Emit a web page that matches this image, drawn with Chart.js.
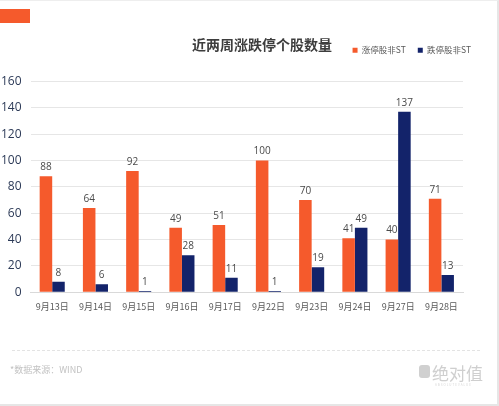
<!DOCTYPE html>
<html>
<head>
<meta charset="utf-8">
<script src="https://cdn.jsdelivr.net/npm/chart.js@4.4.1/dist/chart.umd.min.js"></script>
<style>
  html, body { margin: 0; padding: 0; background: #fff; }
  #wrap {
    position: relative; width: 499px; height: 406px; box-sizing: border-box;
    border-right: 2px solid #e6e6e6; border-bottom: 2px solid #e6e6e6; border-top: 1px solid #eeeeee;
    font-family: "Noto Sans CJK SC", "Open Sans", sans-serif; overflow: hidden;
  }
  #tag { position: absolute; left: 0; top: 8px; width: 30px; height: 14px; background: #f55a2c; }
  #title {
    position: absolute; left: 192px; top: 33px; font-size: 14px; font-weight: bold; color: #3d3d3d;
    white-space: nowrap;
  }
  #chart { position: absolute; left: 0; top: 0; }
  #rule { position: absolute; left: 12px; top: 349px; width: 468px; border-top: 1px dashed #e3e3e3; }
  #source { position: absolute; left: 10px; top: 362px; font-size: 9px; color: #c2c2c2; }
  #logo { position: absolute; left: 419px; top: 359px; color: #cfcfcf; white-space: nowrap; }
  #logo .mark { display: inline-block; width: 11px; height: 13px; background: #d0d0d0; border-radius: 3px; vertical-align: 2px; margin-right: 2px; }
  #logo .name { font-size: 17px; }
  #logo .en { position: absolute; left: 16px; top: 23px; font-size: 3px; letter-spacing: 1px; color: #d6d6d6; }
</style>
</head>
<body>
<div id="wrap">
  <div id="tag"></div>
  <canvas id="chart" width="499" height="406"></canvas>
  <div id="title">近两周涨跌停个股数量</div>
  <div id="rule"></div>
  <div id="source">*数据来源：WIND</div>
  <div id="logo"><span class="mark"></span><span class="name">绝对值</span><span class="en">ABSOLUTEVALUE</span></div>
</div>
<script>
// categories and series
const dates = ['9月13日', '9月14日', '9月15日', '9月16日', '9月17日', '9月22日', '9月23日', '9月24日', '9月27日', '9月28日']
const limitUp = [88, 64, 92, 49, 51, 100, 70, 41, 40, 71]
const limitDown = [8, 6, 1, 28, 11, 1, 19, 49, 137, 13]
const yTicks = [0, 20, 40, 60, 80, 100, 120, 140, 160]

const orange = '#f55a2c'
const navy = '#13236a'

// value labels above every bar
const barValues = {
	id: 'barValues',
	afterDatasetsDraw(chart) {
		const ctx = chart.ctx
		ctx.save()
		ctx.font = '10px "Open Sans", "Noto Sans CJK SC", sans-serif'
		ctx.fillStyle = '#4a4a4a'
		ctx.textAlign = 'center'
		ctx.textBaseline = 'bottom'
		chart.data.datasets.forEach((ds, i) => {
			chart.getDatasetMeta(i).data.forEach((bar, j) => {
				ctx.fillText(ds.data[j], bar.x, bar.y - 4)
			})
		})
		ctx.restore()
	}
}

// more room under the legend, and push it a bit to the right
const legendSpace = {
	id: 'legendSpace',
	beforeInit(chart) {
		const fit = chart.legend.fit
		chart.legend.fit = function () {
			fit.bind(chart.legend)()
			this.height += 17
		}
	},
	afterLayout(chart) {
		chart.legend.left += 20
		chart.legend.right += 20
	}
}

new Chart(document.getElementById('chart'), {
	type: 'bar',
	data: {
		labels: dates,
		datasets: [
			{ label: '涨停股非ST', data: limitUp, backgroundColor: orange },
			{ label: '跌停股非ST', data: limitDown, backgroundColor: navy }
		]
	},
	options: {
		responsive: false,
		animation: false,
		devicePixelRatio: 1,
		layout: { padding: { left: 0, right: 36, top: 33, bottom: 94 } },
		datasets: { bar: { barPercentage: 1, categoryPercentage: 0.58 } },
		plugins: {
			legend: {
				position: 'top',
				align: 'end',
				labels: {
					boxWidth: 5, boxHeight: 5, padding: 12,
					color: '#5a5a5a',
					font: { size: 8.5, family: '"Noto Sans CJK SC", sans-serif' }
				}
			},
			tooltip: { enabled: false }
		},
		scales: {
			x: {
				grid: { display: false },
				border: { color: '#d9d9d9' },
				ticks: { color: '#5a5a5a', font: { size: 9, family: '"Noto Sans CJK SC", sans-serif' }, maxRotation: 0, padding: 1 }
			},
			y: {
				min: 0, max: 160,
				afterBuildTicks: axis => { axis.ticks = yTicks.map(v => ({ value: v })) },
				// the axis box is a little wider than its labels; trim it
				afterFit: axis => { axis.width -= 8 },
				grid: { color: '#e6e6e6', drawTicks: false },
				border: { display: false },
				ticks: { color: '#2c3a57', padding: 9, font: { size: 12, family: '"Open Sans", sans-serif' } }
			}
		}
	},
	plugins: [barValues, legendSpace]
})
</script>
</body>
</html>
